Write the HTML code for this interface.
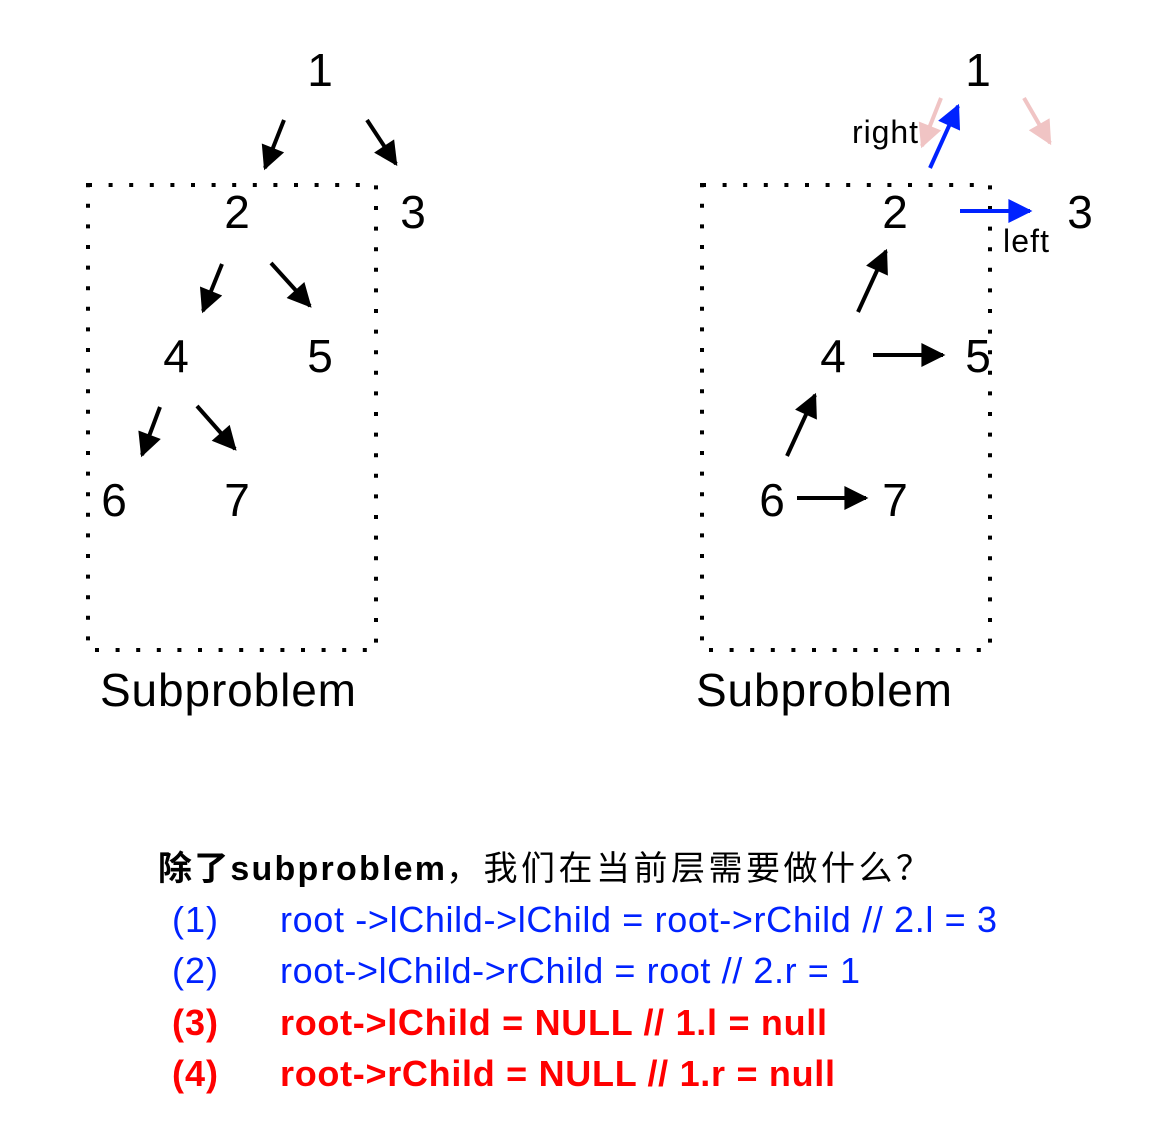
<!DOCTYPE html>
<html><head><meta charset="utf-8"><style>
html,body{margin:0;padding:0;background:#fff;}
svg{display:block;}
</style></head><body>
<svg width="1166" height="1136" xmlns="http://www.w3.org/2000/svg" font-family="Liberation Sans, Noto Sans CJK SC, sans-serif">
<defs>
<marker id="k" viewBox="0 0 10 10" refX="9" refY="5" markerWidth="6.5" markerHeight="6" orient="auto" markerUnits="strokeWidth"><path d="M0,0 L10,5 L0,10 z" fill="#000"/></marker>
<marker id="b" viewBox="0 0 10 10" refX="9" refY="5" markerWidth="6.5" markerHeight="6" orient="auto" markerUnits="strokeWidth"><path d="M0,0 L10,5 L0,10 z" fill="#0022ff"/></marker>
<marker id="p" viewBox="0 0 10 10" refX="9" refY="5" markerWidth="6.5" markerHeight="6" orient="auto" markerUnits="strokeWidth"><path d="M0,0 L10,5 L0,10 z" fill="#f0c4c4"/></marker>
</defs>
<g fill="none" stroke="#000" stroke-width="4" stroke-dasharray="4 16.6">
<rect x="88" y="185" width="288" height="465"/>
<rect x="702" y="185" width="288" height="465"/>
</g>
<g font-size="46" text-anchor="middle" fill="#000">
<text x="320" y="86">1</text><text x="237" y="228">2</text><text x="413" y="228">3</text>
<text x="176" y="372">4</text><text x="320" y="372">5</text><text x="114" y="516">6</text><text x="237" y="516">7</text>
<text x="978" y="86">1</text><text x="895" y="228">2</text><text x="1080" y="228">3</text>
<text x="833" y="372">4</text><text x="978" y="372">5</text><text x="772" y="516">6</text><text x="895" y="516">7</text>
</g>
<g font-size="46" fill="#000"><text x="100" y="706" textLength="256">Subproblem</text><text x="696" y="706" textLength="256">Subproblem</text></g>
<g font-size="32" fill="#000"><text x="852" y="143" textLength="66">right</text><text x="1003" y="252" textLength="46">left</text></g>
<g stroke="#000" stroke-width="4" marker-end="url(#k)">
<line x1="284" y1="120" x2="265" y2="168"/><line x1="367" y1="120" x2="396" y2="164"/>
<line x1="222" y1="264" x2="203" y2="311"/><line x1="271" y1="263" x2="310" y2="306"/>
<line x1="160" y1="407" x2="142" y2="455"/><line x1="197" y1="406" x2="235" y2="449"/>
<line x1="858" y1="312" x2="886" y2="251"/><line x1="873" y1="355" x2="943" y2="355"/>
<line x1="787" y1="456" x2="815" y2="395"/><line x1="797" y1="498" x2="866" y2="498"/>
</g>
<g stroke="#f0c4c4" stroke-width="4" marker-end="url(#p)">
<line x1="941" y1="98" x2="922" y2="146"/><line x1="1024" y1="98" x2="1050" y2="143"/>
</g>
<g stroke="#0022ff" stroke-width="4" marker-end="url(#b)">
<line x1="930" y1="168" x2="958" y2="106"/><line x1="960" y1="211" x2="1030" y2="211"/>
</g>
<text x="158" y="880" font-size="34" fill="#000" font-weight="bold" textLength="287">除了subproblem</text>
<text x="446" y="880" font-size="34" fill="#000" textLength="484">，我们在当前层需要做什么？</text>
<g font-size="36" fill="#0022ff">
<text x="172" y="932" textLength="46">(1)</text><text x="280" y="932" textLength="717">root -&gt;lChild-&gt;lChild = root-&gt;rChild // 2.l = 3</text>
<text x="172" y="983" textLength="46">(2)</text><text x="280" y="983" textLength="580">root-&gt;lChild-&gt;rChild = root // 2.r = 1</text>
</g>
<g font-size="36" fill="#ff0000" font-weight="bold">
<text x="172" y="1035" textLength="46">(3)</text><text x="280" y="1035" textLength="547">root-&gt;lChild = NULL // 1.l = null</text>
<text x="172" y="1086" textLength="46">(4)</text><text x="280" y="1086" textLength="555">root-&gt;rChild = NULL // 1.r = null</text>
</g>
</svg>
</body></html>
